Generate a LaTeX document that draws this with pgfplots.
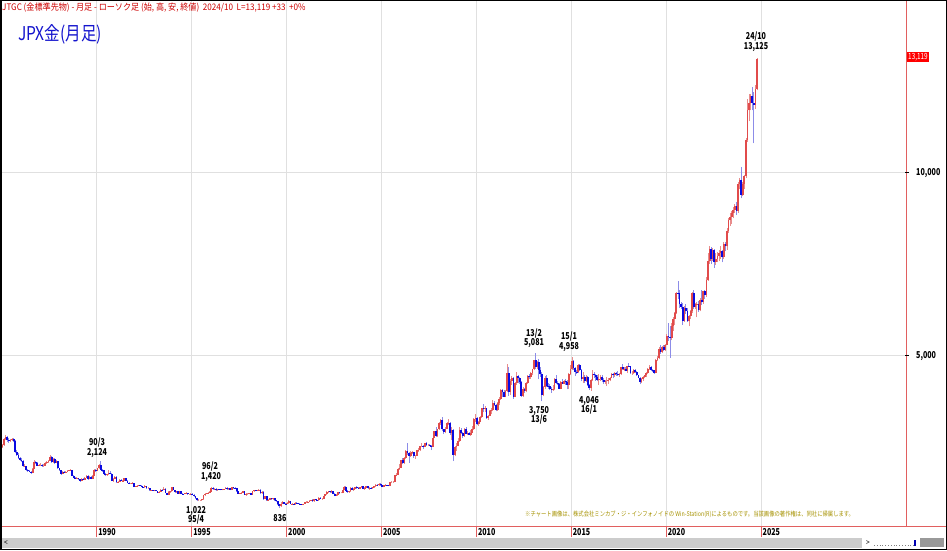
\documentclass[border=0pt]{standalone}
\usepackage{pgfplots}
\pgfplotsset{compat=1.18}
\usepackage{pgfplotstable}
\usepackage{fontspec}
\setmainfont{Noto Sans CJK JP}
\newfontfamily\cond{Noto Sans CJK JP}[FakeStretch=0.75]
\newfontfamily\hdr{Noto Sans CJK JP}[FakeStretch=0.82]
\newfontfamily\hdrw{Noto Sans CJK JP}[FakeStretch=0.9]
\definecolor{upb}{RGB}{225,75,75}
\definecolor{upw}{RGB}{232,140,140}
\definecolor{dnb}{RGB}{10,10,225}
\definecolor{dnw}{RGB}{140,140,232}
\definecolor{axred}{RGB}{225,95,95}
\definecolor{note}{RGB}{165,145,0}
\definecolor{ttl}{RGB}{20,20,205}
\definecolor{hdrc}{RGB}{205,0,0}

\pgfplotstableread{
yr mo o h l c
1985 1 2500 2600 2470 2560
1985 2 2560 2750 2540 2720
1985 3 2720 2840 2690 2780
1985 4 2780 2800 2650 2700
1985 5 2700 2740 2620 2660
1985 6 2660 2720 2640 2690
1985 7 2690 2760 2670 2720
1985 8 2720 2740 2640 2680
1985 9 2680 2700 2330 2380
1985 10 2380 2420 2270 2300
1985 11 2300 2330 2180 2200
1985 12 2200 2240 2120 2150
1986 1 2150 2200 2090 2130
1986 2 2130 2140 1960 1980
1986 3 1980 2030 1950 1990
1986 4 1990 2000 1860 1880
1986 5 1880 1900 1820 1850
1986 6 1850 1880 1810 1830
1986 7 1830 1850 1770 1800
1986 8 1800 1930 1790 1910
1986 9 1910 2140 1900 2100
1986 10 2100 2130 2040 2070
1986 11 2070 2090 1980 2000
1986 12 2000 2040 1980 2010
1987 1 2010 2060 1980 2010
1987 2 2010 2040 1970 2000
1987 3 2000 2030 1960 2000
1987 4 2000 2090 1990 2060
1987 5 2060 2130 2040 2100
1987 6 2100 2150 2070 2130
1987 7 2130 2300 2120 2240
1987 8 2240 2260 2080 2100
1987 9 2100 2200 2080 2180
1987 10 2180 2210 2030 2080
1987 11 2080 2150 2060 2120
1987 12 2120 2130 1900 1920
1988 1 1920 1940 1850 1870
1988 2 1870 1880 1750 1770
1988 3 1770 1850 1760 1830
1988 4 1830 1850 1790 1810
1988 5 1810 1850 1800 1830
1988 6 1830 1880 1810 1860
1988 7 1860 1890 1840 1870
1988 8 1870 1900 1850 1880
1988 9 1880 1890 1700 1720
1988 10 1720 1740 1650 1670
1988 11 1670 1690 1630 1650
1988 12 1650 1680 1630 1660
1989 1 1660 1670 1610 1630
1989 2 1630 1640 1560 1580
1989 3 1580 1650 1570 1630
1989 4 1630 1650 1600 1610
1989 5 1610 1680 1600 1660
1989 6 1660 1740 1650 1720
1989 7 1720 1730 1610 1630
1989 8 1630 1700 1620 1690
1989 9 1690 1700 1620 1640
1989 10 1640 1730 1630 1720
1989 11 1720 1900 1710 1880
1989 12 1880 1900 1830 1860
1990 1 1860 1940 1840 1920
1990 2 1920 2050 1900 2010
1990 3 2010 2124 1870 1880
1990 4 1880 1900 1830 1870
1990 5 1870 1880 1770 1780
1990 6 1780 1790 1710 1730
1990 7 1730 1780 1720 1760
1990 8 1760 1880 1750 1800
1990 9 1800 1850 1760 1780
1990 10 1780 1800 1570 1590
1990 11 1590 1660 1560 1640
1990 12 1640 1700 1620 1680
1991 1 1680 1720 1530 1550
1991 2 1550 1580 1530 1560
1991 3 1560 1630 1550 1610
1991 4 1610 1620 1570 1580
1991 5 1580 1610 1570 1590
1991 6 1590 1660 1580 1650
1991 7 1650 1660 1580 1590
1991 8 1590 1600 1510 1520
1991 9 1520 1540 1500 1510
1991 10 1510 1530 1490 1510
1991 11 1510 1540 1500 1520
1991 12 1520 1530 1410 1420
1992 1 1420 1450 1410 1430
1992 2 1430 1460 1420 1450
1992 3 1450 1470 1430 1460
1992 4 1460 1470 1430 1450
1992 5 1450 1460 1400 1410
1992 6 1410 1420 1380 1400
1992 7 1400 1460 1390 1440
1992 8 1440 1450 1370 1380
1992 9 1380 1400 1360 1380
1992 10 1380 1390 1310 1320
1992 11 1320 1340 1310 1330
1992 12 1330 1340 1310 1320
1993 1 1320 1340 1300 1330
1993 2 1330 1340 1290 1300
1993 3 1300 1310 1240 1250
1993 4 1250 1300 1240 1280
1993 5 1280 1360 1270 1340
1993 6 1340 1370 1310 1330
1993 7 1330 1420 1320 1360
1993 8 1360 1380 1240 1250
1993 9 1250 1260 1190 1200
1993 10 1200 1290 1190 1270
1993 11 1270 1300 1250 1290
1993 12 1290 1410 1280 1400
1994 1 1400 1410 1320 1330
1994 2 1330 1340 1260 1270
1994 3 1270 1300 1260 1290
1994 4 1290 1300 1220 1230
1994 5 1230 1310 1220 1300
1994 6 1300 1310 1220 1230
1994 7 1230 1250 1210 1220
1994 8 1220 1250 1210 1240
1994 9 1240 1270 1230 1250
1994 10 1250 1260 1200 1210
1994 11 1210 1230 1200 1210
1994 12 1210 1240 1200 1230
1995 1 1230 1240 1190 1200
1995 2 1200 1210 1150 1160
1995 3 1160 1170 1090 1110
1995 4 1110 1120 1022 1050
1995 5 1050 1080 1040 1050
1995 6 1050 1070 1030 1050
1995 7 1050 1090 1040 1080
1995 8 1080 1200 1070 1190
1995 9 1190 1240 1180 1230
1995 10 1230 1260 1220 1250
1995 11 1250 1270 1240 1260
1995 12 1260 1290 1250 1280
1996 1 1280 1400 1270 1390
1996 2 1390 1420 1340 1350
1996 3 1350 1380 1340 1370
1996 4 1370 1380 1310 1320
1996 5 1320 1370 1310 1360
1996 6 1360 1370 1340 1350
1996 7 1350 1360 1320 1330
1996 8 1330 1360 1320 1350
1996 9 1350 1370 1340 1360
1996 10 1360 1400 1350 1390
1996 11 1390 1400 1340 1350
1996 12 1350 1390 1340 1380
1997 1 1380 1390 1320 1340
1997 2 1340 1410 1330 1400
1997 3 1400 1410 1370 1390
1997 4 1390 1400 1360 1380
1997 5 1380 1390 1280 1290
1997 6 1290 1300 1220 1230
1997 7 1230 1260 1210 1240
1997 8 1240 1280 1230 1260
1997 9 1260 1300 1240 1290
1997 10 1290 1300 1190 1200
1997 11 1200 1240 1180 1220
1997 12 1220 1240 1190 1220
1998 1 1220 1260 1210 1240
1998 2 1240 1250 1190 1200
1998 3 1200 1300 1190 1290
1998 4 1290 1330 1280 1320
1998 5 1320 1330 1290 1310
1998 6 1310 1340 1300 1320
1998 7 1320 1360 1310 1340
1998 8 1340 1350 1230 1240
1998 9 1240 1300 1230 1280
1998 10 1280 1290 1060 1090
1998 11 1090 1170 1080 1160
1998 12 1160 1170 1040 1050
1999 1 1050 1090 1040 1070
1999 2 1070 1110 1060 1100
1999 3 1100 1110 1070 1080
1999 4 1080 1110 1070 1100
1999 5 1100 1110 1040 1050
1999 6 1050 1060 1010 1020
1999 7 1020 1030 930 940
1999 8 940 950 836 880
1999 9 880 990 860 960
1999 10 960 1040 950 1000
1999 11 1000 1010 950 960
1999 12 960 980 940 950
2000 1 950 990 940 975
2000 2 975 1050 960 1030
2000 3 1030 1040 940 950
2000 4 950 970 940 955
2000 5 955 960 920 940
2000 6 940 990 930 980
2000 7 980 990 950 965
2000 8 965 970 940 950
2000 9 950 970 930 945
2000 10 945 950 915 925
2000 11 925 960 920 955
2000 12 955 1010 950 1000
2001 1 1000 1020 980 1000
2001 2 1000 1020 990 1010
2001 3 1010 1050 1000 1040
2001 4 1040 1070 1030 1050
2001 5 1050 1080 1010 1020
2001 6 1020 1090 1010 1080
2001 7 1080 1090 1050 1065
2001 8 1065 1070 1030 1045
2001 9 1045 1150 1040 1125
2001 10 1125 1140 1080 1090
2001 11 1090 1100 1070 1090
2001 12 1090 1170 1080 1165
2002 1 1165 1220 1160 1210
2002 2 1210 1290 1200 1275
2002 3 1275 1300 1250 1290
2002 4 1290 1300 1250 1270
2002 5 1270 1330 1260 1300
2002 6 1300 1310 1210 1220
2002 7 1220 1240 1160 1180
2002 8 1180 1210 1170 1190
2002 9 1190 1280 1180 1270
2002 10 1270 1280 1230 1250
2002 11 1250 1270 1240 1250
2002 12 1250 1340 1240 1325
2003 1 1325 1440 1320 1420
2003 2 1420 1450 1300 1310
2003 3 1310 1330 1250 1270
2003 4 1270 1300 1260 1290
2003 5 1290 1400 1280 1390
2003 6 1390 1400 1320 1330
2003 7 1330 1380 1310 1370
2003 8 1370 1420 1360 1410
2003 9 1410 1440 1370 1390
2003 10 1390 1410 1350 1360
2003 11 1360 1410 1350 1400
2003 12 1400 1440 1390 1430
2004 1 1430 1450 1350 1360
2004 2 1360 1400 1340 1390
2004 3 1390 1450 1380 1430
2004 4 1430 1440 1360 1380
2004 5 1380 1400 1340 1390
2004 6 1390 1400 1370 1380
2004 7 1380 1410 1370 1400
2004 8 1400 1440 1390 1435
2004 9 1435 1490 1420 1480
2004 10 1480 1500 1440 1455
2004 11 1455 1520 1450 1500
2004 12 1500 1510 1440 1460
2005 1 1460 1470 1400 1410
2005 2 1410 1470 1400 1460
2005 3 1460 1490 1440 1470
2005 4 1470 1480 1440 1460
2005 5 1460 1470 1430 1450
2005 6 1450 1560 1440 1550
2005 7 1550 1570 1510 1550
2005 8 1550 1580 1530 1550
2005 9 1550 1740 1540 1730
2005 10 1730 1790 1700 1750
2005 11 1750 1920 1740 1910
2005 12 1910 2050 1880 1940
2006 1 1940 2160 1930 2140
2006 2 2140 2200 2030 2070
2006 3 2070 2220 2040 2200
2006 4 2200 2420 2190 2390
2006 5 2390 2620 2280 2330
2006 6 2330 2360 2080 2260
2006 7 2260 2400 2240 2340
2006 8 2340 2400 2310 2360
2006 9 2360 2380 2200 2270
2006 10 2270 2300 2180 2270
2006 11 2270 2430 2260 2410
2006 12 2410 2480 2380 2420
2007 1 2420 2540 2390 2530
2007 2 2530 2620 2510 2530
2007 3 2530 2560 2440 2510
2007 4 2510 2620 2500 2610
2007 5 2610 2630 2540 2570
2007 6 2570 2600 2530 2570
2007 7 2570 2600 2520 2540
2007 8 2540 2560 2420 2510
2007 9 2510 2760 2500 2750
2007 10 2750 2950 2740 2930
2007 11 2930 3050 2780 2810
2007 12 2810 3010 2780 3000
2008 1 3000 3200 2980 3160
2008 2 3160 3280 3100 3250
2008 3 3250 3330 2950 2990
2008 4 2990 3010 2860 2910
2008 5 2910 3040 2880 3010
2008 6 3010 3180 2990 3160
2008 7 3160 3260 3120 3170
2008 8 3170 3180 2830 2890
2008 9 2890 3050 2700 2970
2008 10 2970 3000 2120 2290
2008 11 2290 2520 2250 2500
2008 12 2500 2620 2400 2540
2009 1 2540 2750 2520 2660
2009 2 2660 3050 2650 2960
2009 3 2960 3020 2850 2900
2009 4 2900 2920 2760 2800
2009 5 2800 3020 2790 3000
2009 6 3000 3040 2850 2870
2009 7 2870 2930 2820 2900
2009 8 2900 2920 2820 2840
2009 9 2840 2960 2810 2900
2009 10 2900 3070 2880 3000
2009 11 3000 3300 2980 3260
2009 12 3260 3400 3200 3290
2010 1 3290 3320 3100 3130
2010 2 3130 3220 3080 3200
2010 3 3200 3340 3180 3320
2010 4 3320 3580 3300 3560
2010 5 3560 3680 3450 3540
2010 6 3540 3620 3470 3560
2010 7 3560 3570 3280 3300
2010 8 3300 3380 3250 3360
2010 9 3360 3520 3340 3490
2010 10 3490 3580 3400 3510
2010 11 3510 3780 3480 3720
2010 12 3720 3760 3620 3660
2011 1 3660 3690 3480 3510
2011 2 3510 3740 3500 3720
2011 3 3720 3860 3640 3820
2011 4 3820 4090 3800 4050
2011 5 4050 4100 3880 4000
2011 6 4000 4050 3860 3880
2011 7 3880 4060 3860 4030
2011 8 4030 4780 4000 4520
2011 9 4520 4700 3900 4010
2011 10 4010 4350 3920 4310
2011 11 4310 4450 4200 4380
2011 12 4380 4420 3820 3880
2012 1 3880 4280 3860 4250
2012 2 4250 4560 4200 4450
2012 3 4450 4480 4250 4380
2012 4 4380 4420 4230 4270
2012 5 4270 4300 3880 3910
2012 6 3910 4150 3880 4090
2012 7 4090 4120 3990 4040
2012 8 4040 4280 4000 4260
2012 9 4260 4480 4230 4440
2012 10 4440 4500 4360 4410
2012 11 4410 4560 4370 4520
2012 12 4520 4650 4460 4630
2013 1 4630 4890 4600 4870
2013 2 4870 5081 4650 4700
2013 3 4700 4860 4650 4820
2013 4 4820 4900 4350 4610
2013 5 4610 4700 4430 4490
2013 6 4490 4550 3750 3920
2013 7 3920 4180 3890 4140
2013 8 4140 4450 4100 4400
2013 9 4400 4480 4150 4180
2013 10 4180 4260 4100 4170
2013 11 4170 4230 4060 4100
2013 12 4100 4150 3990 4060
2014 1 4060 4200 4040 4080
2014 2 4080 4380 4060 4350
2014 3 4350 4460 4230 4250
2014 4 4250 4300 4190 4230
2014 5 4230 4260 4080 4100
2014 6 4100 4300 4080 4290
2014 7 4290 4360 4220 4240
2014 8 4240 4330 4220 4300
2014 9 4300 4350 4200 4280
2014 10 4280 4330 4080 4210
2014 11 4210 4520 4100 4500
2014 12 4500 4750 4460 4630
2015 1 4630 4958 4600 4850
2015 2 4850 4880 4620 4660
2015 3 4660 4700 4450 4560
2015 4 4560 4620 4500 4550
2015 5 4550 4760 4530 4740
2015 6 4740 4780 4580 4620
2015 7 4620 4640 4300 4370
2015 8 4370 4560 4250 4420
2015 9 4420 4460 4260 4300
2015 10 4300 4480 4280 4430
2015 11 4430 4450 4180 4210
2015 12 4210 4240 4060 4110
2016 1 4110 4360 4046 4330
2016 2 4330 4620 4300 4490
2016 3 4490 4560 4400 4460
2016 4 4460 4500 4320 4410
2016 5 4410 4470 4300 4340
2016 6 4340 4500 4200 4370
2016 7 4370 4480 4300 4430
2016 8 4430 4460 4280 4330
2016 9 4330 4400 4230 4280
2016 10 4280 4340 4220 4300
2016 11 4300 4420 4180 4300
2016 12 4300 4380 4220 4330
2017 1 4330 4420 4300 4400
2017 2 4400 4520 4380 4500
2017 3 4500 4540 4380 4460
2017 4 4460 4560 4420 4520
2017 5 4520 4560 4440 4510
2017 6 4510 4580 4450 4470
2017 7 4470 4520 4420 4490
2017 8 4490 4700 4470 4680
2017 9 4680 4780 4600 4630
2017 10 4630 4680 4580 4640
2017 11 4640 4680 4570 4590
2017 12 4590 4730 4540 4720
2018 1 4720 4810 4690 4710
2018 2 4710 4730 4500 4520
2018 3 4520 4590 4480 4520
2018 4 4520 4640 4500 4620
2018 5 4620 4640 4530 4550
2018 6 4550 4580 4440 4460
2018 7 4460 4480 4380 4400
2018 8 4400 4420 4220 4290
2018 9 4290 4380 4260 4350
2018 10 4350 4440 4320 4410
2018 11 4410 4480 4380 4460
2018 12 4460 4560 4410 4530
2019 1 4530 4660 4500 4630
2019 2 4630 4740 4610 4700
2019 3 4700 4720 4580 4610
2019 4 4610 4640 4550 4600
2019 5 4600 4620 4500 4540
2019 6 4540 4920 4520 4880
2019 7 4880 5000 4850 4930
2019 8 4930 5250 4900 5180
2019 9 5180 5300 5050 5110
2019 10 5110 5270 5070 5250
2019 11 5250 5280 5120 5150
2019 12 5150 5320 5130 5300
2020 1 5300 5580 5280 5530
2020 2 5530 5900 5400 5500
2020 3 5500 5800 4950 5480
2020 4 5480 5900 5420 5800
2020 5 5800 6050 5680 6000
2020 6 6000 6200 5850 6180
2020 7 6180 6750 6150 6720
2020 8 6720 7050 6550 6700
2020 9 6700 6800 6300 6400
2020 10 6400 6480 6280 6330
2020 11 6330 6450 5850 5960
2020 12 5960 6350 5920 6300
2021 1 6300 6420 6150 6220
2021 2 6220 6300 5920 5940
2021 3 5940 6120 5800 6080
2021 4 6080 6250 6000 6210
2021 5 6210 6740 6180 6720
2021 6 6720 6800 6280 6320
2021 7 6320 6450 6280 6410
2021 8 6410 6480 6050 6420
2021 9 6420 6500 6200 6240
2021 10 6240 6580 6210 6530
2021 11 6530 6800 6380 6460
2021 12 6460 6780 6420 6760
2022 1 6760 6800 6550 6660
2022 2 6660 7150 6600 7060
2022 3 7060 7800 7050 7580
2022 4 7580 8000 7500 7910
2022 5 7910 7980 7500 7650
2022 6 7650 7950 7600 7880
2022 7 7880 7920 7400 7550
2022 8 7550 7800 7480 7650
2022 9 7650 7820 7550 7720
2022 10 7720 7900 7580 7810
2022 11 7810 8000 7650 7850
2022 12 7850 7900 7550 7690
2023 1 7690 8100 7650 8060
2023 2 8060 8100 7850 7990
2023 3 7990 8500 7900 8420
2023 4 8420 8750 8350 8700
2023 5 8700 8900 8550 8790
2023 6 8790 8950 8600 8900
2023 7 8900 9050 8750 8990
2023 8 8990 9150 8900 9080
2023 9 9080 9200 8850 8960
2023 10 8960 9750 8900 9680
2023 11 9680 9850 9550 9790
2023 12 9790 10150 9300 9400
2024 1 9400 9750 9350 9700
2024 2 9700 9950 9550 9900
2024 3 9900 10950 9850 10900
2024 4 10900 12000 10850 11700
2024 5 11700 12150 11400 11900
2024 6 11900 12150 11700 12100
2024 7 12100 12350 11700 11900
2024 8 11900 12200 10800 11850
2024 9 11850 12400 11750 12300
2024 10 12300 13125 12250 13119
}\gold

\begin{document}
\begin{tikzpicture}
\path[use as bounding box] (0pt,0pt) rectangle (947pt,550pt);
\begin{axis}[
  at={(1pt,24pt)}, anchor=south west,
  width=905pt, height=525pt, scale only axis,
  xmin=1984.958, xmax=2032.64, ymin=347, ymax=14691,
  axis x line*=bottom, axis y line*=right,
  axis line style={draw=axred, line width=0.9pt, -},
  xtick={1990,1995,2000,2005,2010,2015,2020,2025},
  ytick={5000,10000},
  scaled y ticks=false, scaled x ticks=false,
  xmajorgrids, ymajorgrids,
  grid style={draw=black!12, line width=0.7pt},
  tick align=outside, major tick length=11pt,
  x tick style={draw=axred, line width=0.9pt},
  y tick style={draw=none},
  xticklabel style={anchor=north west, inner sep=0pt, xshift=1.5pt, yshift=9pt,
     font=\cond\bfseries\fontsize{9.5}{10}\selectfont,
     /pgf/number format/1000 sep={}},
  yticklabel style={anchor=west, inner sep=0pt, xshift=-1pt,
     font=\cond\bfseries\fontsize{9.5}{10}\selectfont,
     /pgf/number format/1000 sep={,}},
  /pgf/number format/assume math mode=true,
  clip=true,
]
% wicks
\addplot[draw=none, mark=none, forget plot, error bars/.cd, y dir=plus, y explicit, error mark=none,
  error bar style={draw=upw, line width=0.9pt}]
  table[x expr=\thisrow{yr}+(\thisrow{mo}-0.5)/12, y=l,
        y error plus expr={(\thisrow{c}>=\thisrow{o})*(\thisrow{h}-\thisrow{l})}] {\gold};
\addplot[draw=none, mark=none, forget plot, error bars/.cd, y dir=plus, y explicit, error mark=none,
  error bar style={draw=dnw, line width=0.9pt}]
  table[x expr=\thisrow{yr}+(\thisrow{mo}-0.5)/12, y=l,
        y error plus expr={(\thisrow{c}<\thisrow{o})*(\thisrow{h}-\thisrow{l})}] {\gold};
% bodies
\addplot[draw=none, mark=none, forget plot, error bars/.cd, y dir=plus, y explicit, error mark=none,
  error bar style={draw=upb, line width=1.8pt}]
  table[x expr=\thisrow{yr}+(\thisrow{mo}-0.5)/12, y=o,
        y error plus expr={max(\thisrow{c}-\thisrow{o},0)}] {\gold};
\addplot[draw=none, mark=none, forget plot, error bars/.cd, y dir=plus, y explicit, error mark=none,
  error bar style={draw=dnb, line width=1.8pt}]
  table[x expr=\thisrow{yr}+(\thisrow{mo}-0.5)/12, y=c,
        y error plus expr={max(\thisrow{o}-\thisrow{c},0)}] {\gold};
\end{axis}
% extra frame lines
\draw[axred, line width=0.9pt] (906pt,24pt) -- (946pt,24pt);
\draw[black, line width=0.8pt] (905pt,377.3pt) -- (909pt,377.3pt);
\draw[black, line width=0.8pt] (905pt,194.3pt) -- (909pt,194.3pt);
% header and title
\node[anchor=west, inner sep=0pt, text=hdrc, font=\hdrw\fontsize{9}{9}\selectfont] at (2pt,542pt)
  {JTGC (金標準先物) - 月足 - ローソク足 (始, 高, 安, 終値)\ \ 2024/10\ \ L=13,119 +33\ \ +0\%};
\node[anchor=west, inner sep=0pt, text=ttl, font=\hdr\fontsize{19}{20}\selectfont] at (18pt,516pt) {JPX金(月足)};
% annotations
\begin{scope}[every node/.style={inner sep=0pt, font=\cond\bfseries\fontsize{9.5}{10}\selectfont}]
\node at (97pt,107pt) {90/3}; \node at (97pt,97pt) {2,124};
\node at (210pt,83pt) {96/2}; \node at (211pt,73pt) {1,420};
\node at (196pt,39pt) {1,022}; \node at (196pt,30pt) {95/4};
\node at (280pt,32pt) {836};
\node at (534pt,216pt) {13/2}; \node at (534pt,207pt) {5,081};
\node at (569pt,213pt) {15/1}; \node at (569pt,203pt) {4,958};
\node at (539pt,139pt) {3,750}; \node at (539pt,130pt) {13/6};
\node at (589pt,149pt) {4,046}; \node at (589pt,140pt) {16/1};
\node at (756pt,513pt) {24/10}; \node at (756pt,503pt) {13,125};
\end{scope}
\node[anchor=west, fill=red, text=white, inner sep=1pt, font=\cond\fontsize{8.5}{9}\selectfont] at (907pt,493pt) {13,119};
\node[anchor=west, inner sep=0pt, text=note, font=\hdr\fontsize{6.5}{7}\selectfont] at (525pt,36pt)
  {※チャート画像は、株式会社ミンカブ・ジ・インフォノイドの Win-Station(R)によるものです。当該画像の著作権は、同社に帰属します。};
% scroll bar
\fill[black!20] (2pt,2pt) rectangle (862pt,12pt);
\node[inner sep=0pt, font=\hdr\fontsize{8}{8}\selectfont] at (6pt,7pt) {<};
\node[inner sep=0pt, font=\hdr\fontsize{8}{8}\selectfont] at (868pt,7pt) {>};
\draw[black!50, dotted, line width=0.8pt] (874pt,5pt) -- (914pt,5pt);
\fill[blue!70!black] (914pt,4pt) rectangle (916pt,10pt);
\fill[black!40] (920pt,3pt) rectangle (944pt,12pt);
% outer frame
\draw[black, line width=1.5pt] (0.75pt,0.75pt) rectangle (946.25pt,549.25pt);
\end{tikzpicture}
\end{document}
